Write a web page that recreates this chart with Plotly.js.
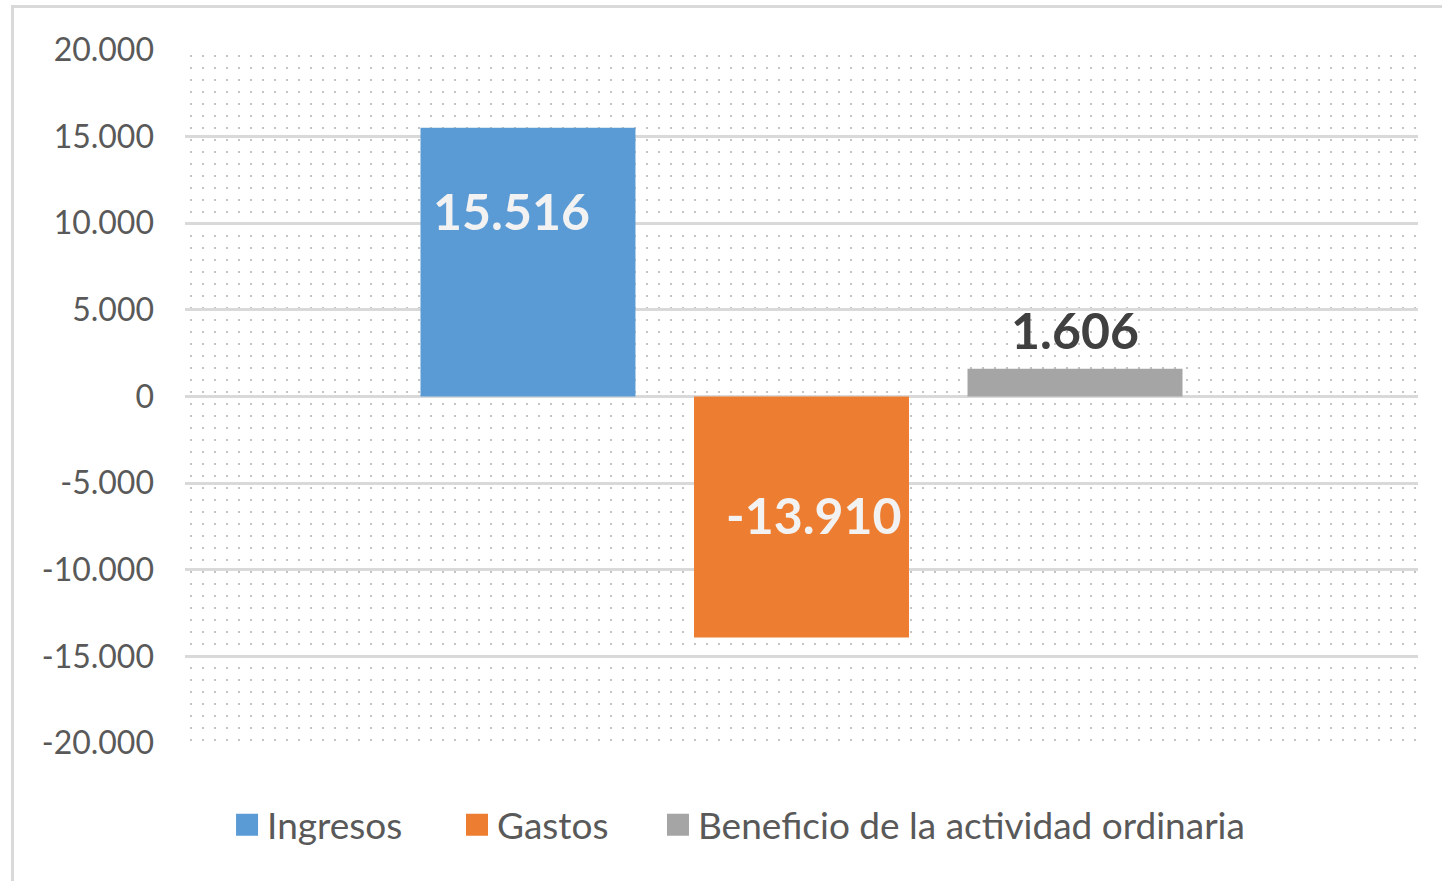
<!DOCTYPE html>
<html>
<head>
<meta charset="utf-8">
<script src="https://cdn.plot.ly/plotly-3.0.1.min.js"></script>
<style>
  html, body { margin: 0; padding: 0; background: #ffffff; overflow: hidden; }
  #wrap { position: relative; width: 1442px; height: 881px; }
  #frame { position: absolute; left: 11px; top: 5px; width: 1500px; height: 1000px;
           border-left: 3px solid #d9d9d9; border-top: 3px solid #d9d9d9; box-sizing: border-box; }
  #dots { position: absolute;
          background-image: radial-gradient(circle, #c4c4c4 0.9px, rgba(255,255,255,0) 1.4px);
          background-size: 12px 12px; }
  #chart { position: absolute; left: 0; top: 0; width: 1442px; height: 881px; }
</style>
</head>
<body>
<div id="wrap">
  <div id="frame"></div>
  <div id="dots"></div>
  <div id="chart"></div>
</div>
<script>
// Data
const categories = ["Ingresos", "Gastos", "Beneficio de la actividad ordinaria"];
const values = [15516, -13910, 1606];
const valueLabels = ["15.516", "-13.910", "1.606"];
const colors = ["#5b9bd5", "#ed7d31", "#a5a5a5"];
const tickVals = [20000, 15000, 10000, 5000, 0, -5000, -10000, -15000, -20000];
const tickText = ["20.000", "15.000", "10.000", "5.000", "0", "-5.000", "-10.000", "-15.000", "-20.000"];

// label style per bar (pixel offsets from the bar end)
const labelShiftY = [-83, 122, 39];
const labelShiftX = [-16, 12, 0];
const labelColors = ["#f2f2f2", "#f2f2f2", "#404040"];

// legend placement (fraction of plot width) for each entry
const legendNames = ["legend", "legend2", "legend3"];
const legendX = [0.0341, 0.2206, 0.3836];

const FONT = "Lato, 'Open Sans', sans-serif";

const traces = categories.map((c, i) => ({
  type: "bar",
  name: c,
  x: [c],
  y: [values[i]],
  legend: legendNames[i],
  marker: { color: colors[i] },
  hoverinfo: "none"
}));

const annotations = categories.map((c, i) => ({
  x: c, y: values[i], xref: "x", yref: "y",
  text: "<b>" + valueLabels[i] + "</b>",
  showarrow: false,
  xshift: labelShiftX[i], yshift: labelShiftY[i],
  font: { family: FONT, size: 50, color: labelColors[i] }
}));

const layout = {
  width: 1442, height: 881,
  margin: { l: 185, r: 24, t: 50, b: 138 },
  paper_bgcolor: "rgba(0,0,0,0)",
  plot_bgcolor: "rgba(0,0,0,0)",
  barmode: "overlay",
  bargap: 0.214,
  showlegend: true,
  font: { family: FONT, size: 30, color: "#595959" },
  xaxis: {
    type: "category",
    range: [-1.254, 3.254],
    showticklabels: false, showgrid: false, zeroline: false, showline: false, ticks: ""
  },
  yaxis: {
    range: [-20000, 20000],
    tickmode: "array", tickvals: tickVals, ticktext: tickText,
    showgrid: true, gridcolor: "#d9d9d9", gridwidth: 3,
    zeroline: true, zerolinecolor: "#d9d9d9", zerolinewidth: 3,
    showline: false, ticks: "",
    ticklabelstandoff: 30,
    tickfont: { family: FONT, size: 32, color: "#595959" }
  },
  annotations: annotations
};

legendNames.forEach((ln, i) => {
  layout[ln] = {
    orientation: "h", x: legendX[i], xanchor: "left", y: -0.074, yanchor: "top",
    font: { family: FONT, size: 37, color: "#595959" },
    bgcolor: "rgba(0,0,0,0)",
    itemclick: false, itemdoubleclick: false
  };
});

Plotly.newPlot("chart", traces, layout, { displayModeBar: false, staticPlot: true }).then(gd => {
  const s = gd._fullLayout._size;
  const d = document.getElementById("dots");
  d.style.left = s.l + "px";
  d.style.top = s.t + "px";
  d.style.width = s.w + "px";
  d.style.height = s.h + "px";
  // enlarge legend swatches to the reference size
  gd.querySelectorAll("g.legendpoints path").forEach(p => {
    p.setAttribute("d", "M11,11H-11V-11H11Z");
    p.style.strokeWidth = "0px";
  });
});
</script>
</body>
</html>
